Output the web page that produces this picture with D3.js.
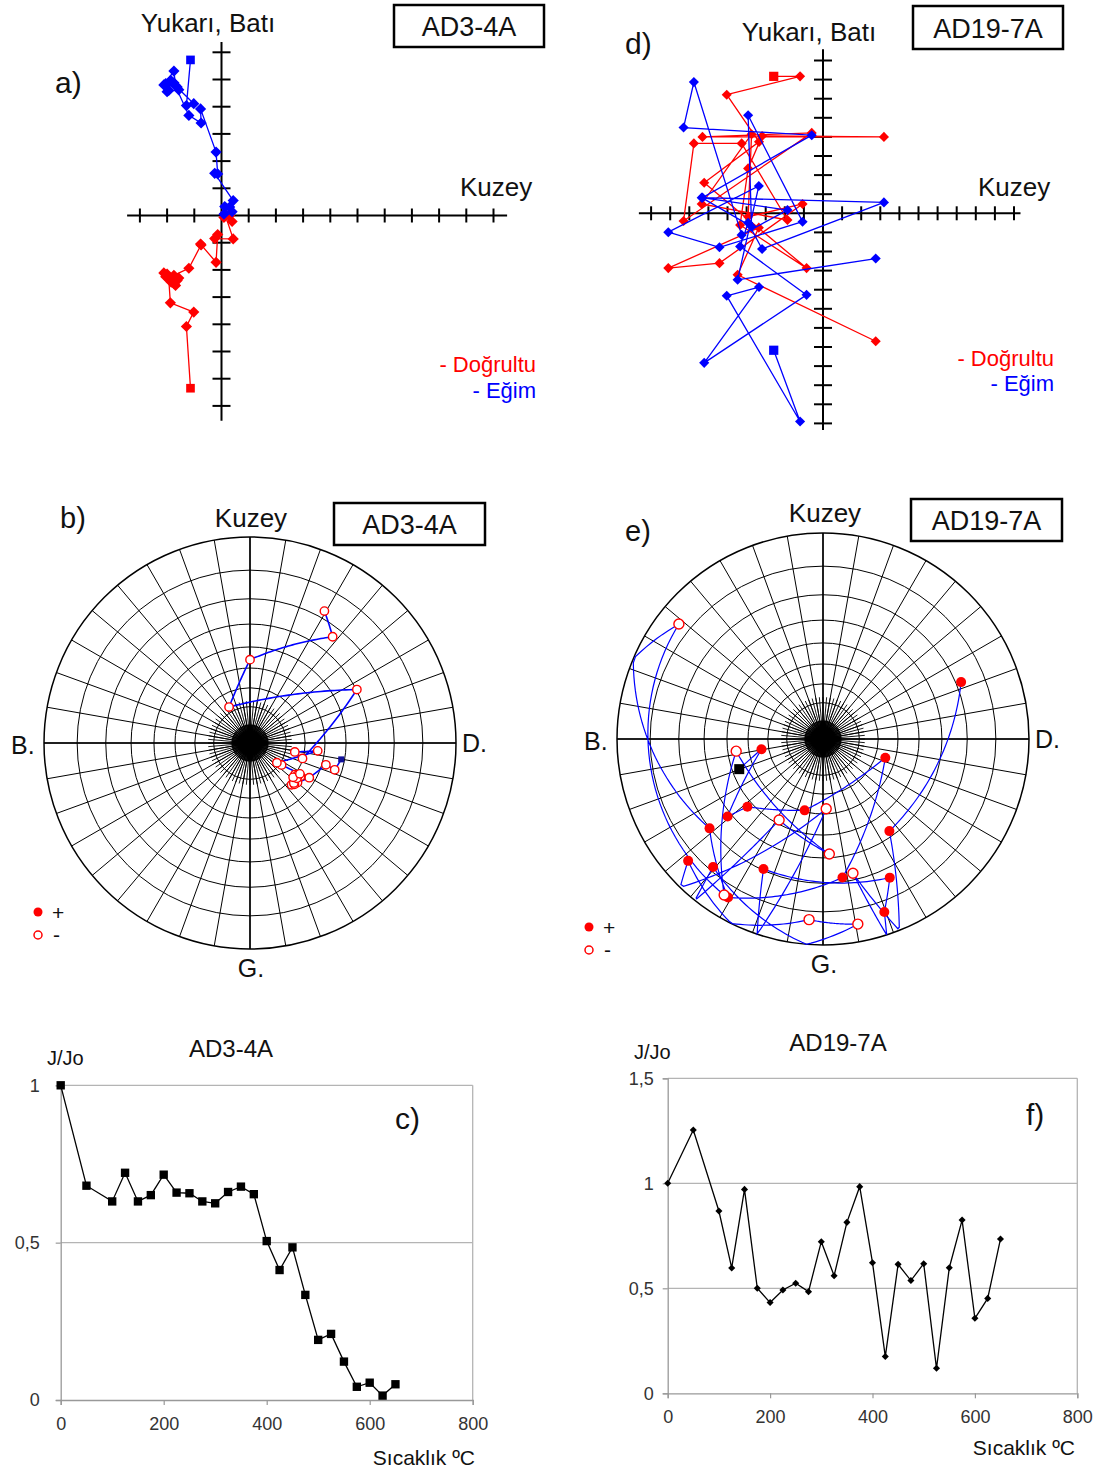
<!DOCTYPE html>
<html>
<head>
<meta charset="utf-8">
<script src="https://cdn.jsdelivr.net/npm/d3@7"></script>
<style>
  body { margin: 0; background: #fff; }
  svg { display: block; }
  text { font-family: "Liberation Sans", Arial, sans-serif; }
</style>
</head>
<body>
<svg id="chart" width="1097" height="1477"></svg>
<script>
// ================= DATA =================
// demagnetisation steps (°C)
const temps = [0,50,100,125,150,175,200,225,250,275,300,325,350,375,400,425,450,475,500,525,550,575,600,625,650];

// J/Jo curves
const jjoAD3 = [1.0,0.681,0.631,0.722,0.631,0.651,0.716,0.659,0.657,0.631,0.625,0.661,0.678,0.654,0.505,0.413,0.485,0.334,0.191,0.210,0.122,0.042,0.055,0.014,0.050];
const jjoAD19 = [1.0,1.254,0.868,0.597,0.971,0.5,0.432,0.492,0.524,0.484,0.722,0.560,0.814,0.984,0.622,0.175,0.614,0.537,0.617,0.119,0.598,0.825,0.357,0.452,0.735];

// Zijderveld components AD3-4A (Kuzey = north, Batı = west, Yukarı = up), plot units
const ad3North = [-1.14,-1.29,-1.02,-1.88,-1.94,-1.69,-1.75,-2.12,-1.63,-1.57,-2.00,-2.05,-1.85,-1.75,-1.20,-0.75,-0.77,-0.20,-0.14,-0.25,0.43,0.12,0.30,0.09,0.39];
const ad3West  = [-6.35,-4.08,-3.55,-3.21,-2.33,-2.57,-2.50,-2.11,-2.39,-2.30,-2.15,-2.25,-2.45,-2.20,-1.94,-1.08,-1.05,-1.72,-0.70,-0.85,-0.86,0.07,0.00,-0.07,-0.22];
const ad3Up    = [5.72,4.04,4.11,4.96,4.60,4.78,5.31,4.80,4.72,4.62,4.55,4.85,4.95,4.88,3.68,3.40,3.92,2.33,1.53,1.55,0.55,0.33,0.31,0.05,0.14];

// Zijderveld components AD19-7A
const ad19North = [-2.58,-1.20,-5.04,-3.35,-6.22,-0.86,-4.34,-3.92,-3.19,3.19,-6.31,-0.59,-7.30,-6.76,-4.26,-1.86,-6.35,-3.74,-3.92,-1.07,-5.42,-8.10,-3.36,-4.47,2.76];
const ad19West  = [7.17,7.17,6.21,3.74,1.60,-2.87,-0.61,2.35,4.05,4.00,4.00,4.21,-0.40,3.66,3.66,-0.35,0.49,4.14,-0.18,0.49,-2.61,-2.87,-0.75,-3.22,-6.70];
const ad19Up    = [-7.17,-10.9,-4.32,-3.86,-7.83,-4.27,-1.74,-0.50,-1.87,0.57,0.82,4.09,4.49,6.87,-1.13,0.17,0.82,-0.70,5.13,-0.44,-1.78,-0.99,1.43,-3.48,-2.37];

// tick labels
const xTickLabels = [0,200,400,600,800];
const yTicksC = [0,0.5,1];
const yTicksF = [0,0.5,1,1.5];

// ================= HELPERS =================
const svg = d3.select("#chart");
const RED = "#ff0000", BLUE = "#0000ff";

function txt(x, y, s, size, opt = {}) {
  return svg.append("text")
    .attr("x", x).attr("y", y)
    .attr("font-size", size)
    .attr("dominant-baseline", "central")
    .attr("text-anchor", opt.anchor || "start")
    .attr("fill", opt.fill || "#111")
    .text(s);
}
function box(x, y, w, h, label) {
  svg.append("rect").attr("x", x).attr("y", y).attr("width", w).attr("height", h)
    .attr("fill", "#fff").attr("stroke", "#000").attr("stroke-width", 2.5);
  txt(x + w / 2, y + h / 2 + 1, label, 27, {anchor: "middle"});
}

// ================= ZIJDERVELD =================
function drawZij(cfg, N, Wst, Up) {
  const x = d3.scaleLinear().domain([0, 1]).range([cfg.ox, cfg.ox + cfg.unit]);
  const y = d3.scaleLinear().domain([0, 1]).range([cfg.oy, cfg.oy - cfg.unit]);
  const g = svg.append("g");
  g.append("line").attr("x1", x(cfg.xmin)).attr("x2", x(cfg.xmax)).attr("y1", y(0)).attr("y2", y(0))
    .attr("stroke", "#000").attr("stroke-width", 2);
  g.append("line").attr("x1", x(0)).attr("x2", x(0)).attr("y1", y(cfg.ymax)).attr("y2", y(cfg.ymin))
    .attr("stroke", "#000").attr("stroke-width", 2);
  d3.range(Math.ceil(cfg.xmin), Math.floor(cfg.xmax) + 1).filter(t => t !== 0).forEach(t => {
    g.append("line").attr("x1", x(t)).attr("x2", x(t)).attr("y1", y(0) - cfg.th).attr("y2", y(0) + cfg.th)
      .attr("stroke", "#000").attr("stroke-width", 2);
  });
  d3.range(Math.ceil(cfg.ymin), Math.floor(cfg.ymax) + 1).filter(t => t !== 0).forEach(t => {
    g.append("line").attr("x1", x(0) - cfg.tv).attr("x2", x(0) + cfg.tv).attr("y1", y(t)).attr("y2", y(t))
      .attr("stroke", "#000").attr("stroke-width", 2);
  });
  const series = [[Wst, RED], [Up, BLUE]];
  series.forEach(([vals, col]) => {
    const pts = N.map((n, i) => [x(n), y(vals[i])]);
    g.append("path").attr("d", d3.line()(pts)).attr("fill", "none")
      .attr("stroke", col).attr("stroke-width", 1.3);
    pts.forEach((p, i) => {
      const sym = i === 0 ? d3.symbol(d3.symbolSquare, cfg.sq) : d3.symbol(d3.symbolDiamond2, cfg.dm);
      g.append("path").attr("d", sym()).attr("transform", `translate(${p[0]},${p[1]})`).attr("fill", col);
    });
  });
}

drawZij({ox: 221.5, oy: 215.5, unit: 27.2, xmin: -3.47, xmax: 10.5, ymin: -7.55, ymax: 6.38, th: 7, tv: 9, sq: 75, dm: 80},
  ad3North, ad3West, ad3Up);
drawZij({ox: 823, oy: 213.3, unit: 19.1, xmin: -9.64, xmax: 10.34, ymin: -11.35, ymax: 8.59, th: 7, tv: 9, sq: 85, dm: 65},
  ad19North, ad19West, ad19Up);

// texts panel a / d
txt(208, 23, "Yukarı, Batı", 26, {anchor: "middle"});
box(394, 5, 150, 42, "AD3-4A");
txt(55, 82, "a)", 30);
txt(460, 187, "Kuzey", 26);
txt(536, 364, "- Doğrultu", 22, {anchor: "end", fill: RED});
txt(536, 390, "- Eğim", 22, {anchor: "end", fill: BLUE});

txt(809, 32, "Yukarı, Batı", 26, {anchor: "middle"});
box(913, 6, 150, 43, "AD19-7A");
txt(625, 43, "d)", 30);
txt(978, 187, "Kuzey", 26);
txt(1054, 358, "- Doğrultu", 22, {anchor: "end", fill: RED});
txt(1054, 383, "- Eğim", 22, {anchor: "end", fill: BLUE});

// ================= STEREONETS =================
function toDirs(N, Wst, Up) {
  return N.map((n, i) => {
    const e = -Wst[i], dn = -Up[i];
    const dec = (Math.atan2(e, n) * 180 / Math.PI + 360) % 360;
    const inc = Math.atan2(dn, Math.hypot(n, e)) * 180 / Math.PI;
    return {dec, inc};
  });
}
function drawNet(cx, cy, R, dirs, opt) {
  const rs = d3.scaleLinear().domain([0, 1]).range([0, R]);
  const rad = I => rs(Math.tan((90 - Math.abs(I)) / 2 * Math.PI / 180));
  const proj = (dec, inc) => {
    const r = rad(inc), a = dec * Math.PI / 180;
    return [cx + r * Math.sin(a), cy - r * Math.cos(a)];
  };
  const g = svg.append("g");
  const spoke = (a, r0, r1, w) => {
    const t = a * Math.PI / 180;
    g.append("line").attr("x1", cx + r0 * Math.sin(t)).attr("y1", cy - r0 * Math.cos(t))
      .attr("x2", cx + r1 * Math.sin(t)).attr("y2", cy - r1 * Math.cos(t))
      .attr("stroke", "#000").attr("stroke-width", w);
  };
  d3.range(0, 360, 2).forEach(a => spoke(a, 0, rad(80), 0.8));
  d3.range(0, 360, 5).forEach(a => spoke(a, 0, rad(67), 0.9));
  d3.range(0, 360, 10).forEach(a => spoke(a, 0, R, 1));
  d3.range(10, 90, 10).forEach(I => {
    g.append("circle").attr("cx", cx).attr("cy", cy).attr("r", rad(I))
      .attr("fill", "none").attr("stroke", "#000").attr("stroke-width", 1);
  });
  g.append("circle").attr("cx", cx).attr("cy", cy).attr("r", R)
    .attr("fill", "none").attr("stroke", "#000").attr("stroke-width", 1.5);
  g.append("line").attr("x1", cx - R).attr("x2", cx + R).attr("y1", cy).attr("y2", cy).attr("stroke", "#000").attr("stroke-width", 1.5);
  g.append("line").attr("x1", cx).attr("x2", cx).attr("y1", cy - R).attr("y2", cy + R).attr("stroke", "#000").attr("stroke-width", 1.5);
  g.append("circle").attr("cx", cx).attr("cy", cy).attr("r", rad(83)).attr("fill", "#000");
  [[0, 90], [90, 0]].forEach(([a, b]) => {
    g.append("line").attr("x1", cx - 17 * Math.sin(a * Math.PI / 180)).attr("x2", cx + 17 * Math.sin(a * Math.PI / 180))
      .attr("y1", cy - 17 * Math.sin(b * Math.PI / 180)).attr("y2", cy + 17 * Math.sin(b * Math.PI / 180))
      .attr("stroke", "#000").attr("stroke-width", 4);
  });

  // great-circle path between successive steps
  const pts = [];
  for (let i = 0; i < dirs.length - 1; i++) {
    const ip = d3.geoInterpolate([dirs[i].dec, dirs[i].inc], [dirs[i + 1].dec, dirs[i + 1].inc]);
    for (let k = 0; k <= 40; k++) {
      const q = ip(k / 40);
      pts.push(proj(q[0], q[1]));
    }
  }
  g.append("path").attr("d", d3.line()(pts)).attr("fill", "none")
    .attr("stroke", BLUE).attr("stroke-width", opt.lw);
  dirs.forEach((d, i) => {
    const p = proj(d.dec, d.inc);
    if (i === 0) {
      g.append("rect").attr("x", p[0] - opt.sq / 2).attr("y", p[1] - opt.sq / 2)
        .attr("width", opt.sq).attr("height", opt.sq).attr("fill", opt.sqColor);
      return;
    }
    if (d.inc >= 0) {
      g.append("circle").attr("cx", p[0]).attr("cy", p[1]).attr("r", opt.mr).attr("fill", RED);
    } else {
      g.append("circle").attr("cx", p[0]).attr("cy", p[1]).attr("r", opt.mr)
        .attr("fill", "#fff").attr("stroke", RED).attr("stroke-width", 1.4);
    }
  });
}

drawNet(250, 743, 206, toDirs(ad3North, ad3West, ad3Up), {lw: 1.6, mr: 4.2, sq: 6, sqColor: "#10109a"});
drawNet(823, 739, 206, toDirs(ad19North, ad19West, ad19Up), {lw: 1.2, mr: 5, sq: 10, sqColor: "#000"});

function netLabels(cx, cy, lab, kx, ky, bx, by, legX, legY) {
  txt(lab[1], lab[2], lab[0], 29);
  txt(kx, ky, "Kuzey", 26, {anchor: "middle"});
  txt(cx - 239, cy + 2, "B.", 25);
  txt(cx + 212, cy + 0, "D.", 25);
  txt(cx + 1, cy + 225, "G.", 25, {anchor: "middle"});
  box(bx, by, 151, 42, lab[3]);
  svg.append("circle").attr("cx", legX).attr("cy", legY).attr("r", 4.5).attr("fill", RED);
  svg.append("circle").attr("cx", legX).attr("cy", legY + 23).attr("r", 4).attr("fill", "#fff").attr("stroke", RED).attr("stroke-width", 1.5);
  txt(legX + 14, legY, "+", 21);
  txt(legX + 15, legY + 22, "-", 21);
}
netLabels(250, 743, ["b)", 60, 518, "AD3-4A"], 251, 518, 334, 503, 38, 912);
netLabels(823, 739, ["e)", 625, 531, "AD19-7A"], 825, 513, 911, 499, 589, 927);

// ================= J/Jo CHARTS =================
function drawDecay(cfg, vals, yTicks) {
  const x = d3.scaleLinear().domain([0, 800]).range([cfg.x0, cfg.x1]);
  const y = d3.scaleLinear().domain([0, cfg.ymax]).range([cfg.y0, cfg.y1]);
  const g = svg.append("g");
  const GRID = "#b4b4b4";
  yTicks.filter(t => t > 0).forEach(t => {
    g.append("line").attr("x1", x(0)).attr("x2", x(800)).attr("y1", y(t)).attr("y2", y(t))
      .attr("stroke", GRID).attr("stroke-width", 1.3);
  });
  g.append("line").attr("x1", x(800)).attr("x2", x(800)).attr("y1", y(0)).attr("y2", y(cfg.ymax))
    .attr("stroke", GRID).attr("stroke-width", 1.3);
  const ax = g.append("g").attr("transform", `translate(0,${y(0)})`)
    .call(d3.axisBottom(x).tickValues(xTickLabels).tickSize(5).tickPadding(12).tickFormat(d3.format("d")));
  const ay = g.append("g").attr("transform", `translate(${x(0)},0)`)
    .call(d3.axisLeft(y).tickValues(yTicks).tickSize(5).tickPadding(cfg.ypad)
      .tickFormat(d => String(d).replace(".", ",")));
  [ax, ay].forEach(a => {
    a.select(".domain").attr("stroke", "#999").attr("stroke-width", 1.3);
    a.selectAll(".tick line").attr("stroke", "#999").attr("stroke-width", 1.2);
    a.selectAll("text").attr("font-size", 18).attr("fill", "#333")
      .attr("font-family", "'Liberation Sans', Arial, sans-serif");
  });
  const pts = temps.map((t, i) => [x(t), y(vals[i])]);
  g.append("path").attr("d", d3.line()(pts)).attr("fill", "none").attr("stroke", "#000").attr("stroke-width", 1.3);
  pts.forEach(p => {
    g.append("path").attr("d", d3.symbol(cfg.sym, cfg.size)())
      .attr("transform", `translate(${p[0]},${p[1]})`).attr("fill", "#000");
  });
}

drawDecay({x0: 60.7, x1: 472.7, y0: 1400, y1: 1085.3, ymax: 1, sym: d3.symbolSquare, size: 70, ypad: 16}, jjoAD3, yTicksC);
drawDecay({x0: 667.7, x1: 1077.3, y0: 1393.3, y1: 1078.3, ymax: 1.5, sym: d3.symbolDiamond2, size: 32, ypad: 9}, jjoAD19, yTicksF);

txt(47, 1058, "J/Jo", 20);
txt(231, 1048, "AD3-4A", 24, {anchor: "middle"});
txt(395, 1118, "c)", 30);
txt(475, 1457, "Sıcaklık ºC", 21, {anchor: "end"});

txt(634, 1052, "J/Jo", 20);
txt(838, 1042, "AD19-7A", 24, {anchor: "middle"});
txt(1026, 1114, "f)", 30);
txt(1075, 1447, "Sıcaklık ºC", 21, {anchor: "end"});
</script>
</body>
</html>
